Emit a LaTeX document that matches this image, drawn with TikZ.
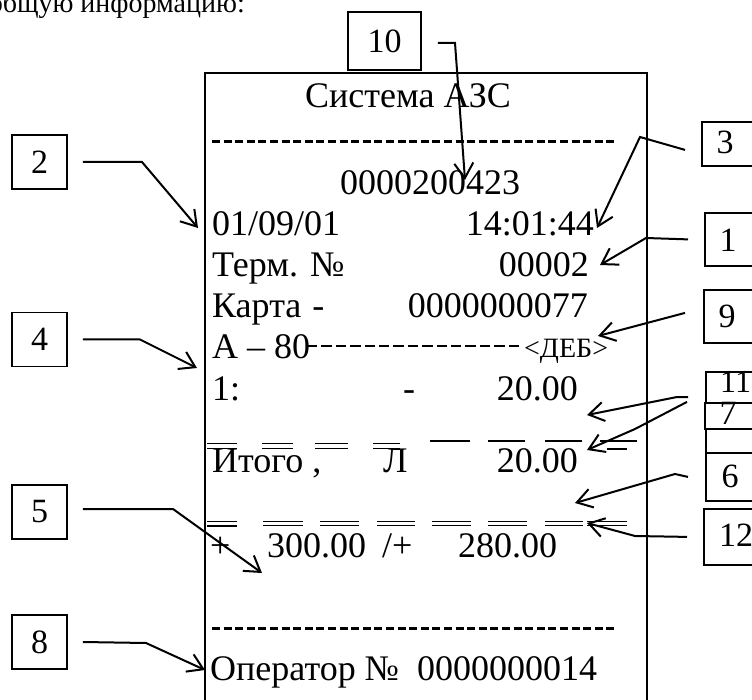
\documentclass[tikz,border=0pt]{standalone}
\usepackage{fontspec}
\setmainfont{Liberation Serif}
\usetikzlibrary{arrows.meta}
\begin{document}
\begin{tikzpicture}[x=1pt,y=-1pt,
  rtext/.style={inner sep=0pt, font=\fontsize{36}{36}\selectfont},
  lbltext/.style={inner sep=0pt, font=\fontsize{34}{34}\selectfont},
  lbox/.style={draw, line width=1.8pt, minimum width=55pt, minimum height=54pt, inner sep=0pt, font=\fontsize{34}{34}\selectfont},
  rbox/.style={draw, line width=1.8pt, inner sep=0pt},
  conn/.style={line width=2pt, -{Straight Barb[length=15pt,width=19pt]}},
  dashrule/.style={line width=3pt, dash pattern=on 8pt off 3.6pt},
  ovl/.style={line width=1.3pt}]
\clip (0,0) rectangle (752,700);
\fill[white] (0,0) rectangle (752,700);

% heading fragment
\node[inner sep=0pt, anchor=base east, font=\fontsize{28}{28}\selectfont] (head) at (245,13) {общую информацию:};

% receipt
\draw[line width=2pt] (205,73) rectangle (647,720);
\node[rtext, anchor=base west] (sys) at (305,108) {Система АЗС};
\coordinate (d1a) at (212,142); \coordinate (d1b) at (617,142);
\draw[dashrule] (d1a) -- (d1b);
\node[rtext, anchor=base west] (num) at (340,195) {0000200423};
\node[rtext, anchor=base west] (date) at (212,236) {01/09/01};
\node[rtext, anchor=base east] (time) at (594,236) {14:01:44};
\node[rtext, anchor=base west] (term) at (212,277) {Терм. №};
\node[rtext, anchor=base east] (termn) at (589,277) {00002};
\node[rtext, anchor=base west] (card) at (212,318) {Карта\hspace{11pt}-};
\node[rtext, anchor=base east] (cardn) at (588,318) {0000000077};
\node[rtext, anchor=base west] (fuel) at (212,359) {А – 80};
\coordinate (fda) at (307,346); \coordinate (fdb) at (522,346);
\draw[line width=2.4pt, dash pattern=on 10.4pt off 4pt] (fda) -- (fdb);
\node[inner sep=0pt, anchor=base west, font=\fontsize{28}{28}\selectfont] (deb) at (524,358) {<ДЕБ>};
\node[rtext, anchor=base west] (r1a) at (212,400) {1:};
\node[rtext, anchor=base west] (r1b) at (403,400) {-};
\node[rtext, anchor=base east] (r1c) at (578,400) {20.00};
\node[rtext, anchor=base west] (tota) at (212,472) {Итого ,};
\node[rtext, anchor=base west] (totb) at (383,472) {Л};
\node[rtext, anchor=base east] (totc) at (578,472) {20.00};
\node[rtext, anchor=base west] (pa) at (210,557) {+};
\node[rtext, anchor=base west] (pb) at (267,557) {300.00};
\node[rtext, anchor=base west] (pc) at (382,557) {/+};
\node[rtext, anchor=base west] (pd) at (458,557) {280.00};
\coordinate (d2a) at (212,628); \coordinate (d2b) at (617,628);
\draw[dashrule] (d2a) -- (d2b);
\node[rtext, anchor=base west] (oper) at (210,680) {Оператор №\hspace{9pt} 0000000014};

% overline artifacts above the "Итого" row
\foreach \a/\b in {207/237,262/293,315/348,373/400}{
  \draw[ovl] (\a,443.5) -- (\b,443.5);
  \draw[ovl] (\a,448.5) -- (\b,448.5);
}
\foreach \a/\b in {430/470,488/525,545/582,600/637}{
  \draw[ovl] (\a,441) -- (\b,441);
}
\draw[ovl] (607,449) -- (627,449);
% overline artifacts above the "+" row
\draw[line width=1.8pt] (207,521.5) -- (237,521.5);
\draw[line width=1.8pt] (207,526) -- (237,526);
\foreach \a/\b in {263/303,320/359,377/415,432/471,488/527,545/583,587/627}{
  \draw[ovl] (\a,521.5) -- (\b,521.5);
  \draw[ovl] (\a,525.5) -- (\b,525.5);
}

% left label boxes
\node[lbox] (b2) at (39.5,162) {2};
\node[lbox] (b4) at (39.5,339.5) {4};
\node[lbox] (b5) at (39.5,512) {5};
\node[lbox] (b8) at (39.5,642) {8};
% top label box
\node[lbox, minimum width=73pt, minimum height=58pt] (b10) at (384.5,41) {10};

% right label boxes
\node[rbox, anchor=north west, minimum width=70pt, minimum height=44pt] (b3) at (701,121) {};
\node[rbox, anchor=north west, minimum width=70pt, minimum height=53pt] (b1) at (704,212) {};
\node[rbox, anchor=north west, minimum width=70pt, minimum height=53pt] (b9) at (703,289) {};
\node[rbox, anchor=north west, minimum width=70pt, minimum height=81pt] (b11) at (705,371) {};
\node[rbox, anchor=north west, minimum width=70pt, minimum height=48pt] (b6) at (705,452) {};
\node[rbox, anchor=north west, minimum width=70pt, minimum height=26pt, fill=white] (b7) at (704,402) {};
\node[rbox, anchor=north west, minimum width=70pt, minimum height=56pt] (b12) at (703,508) {};
\node[lbltext] (t3) at (725,142) {3};
\node[lbltext] (t1) at (728,240) {1};
\node[lbltext] (t9) at (727,316) {9};
\node[lbltext, anchor=base west, font=\fontsize{32}{32}\selectfont] (t11) at (720,392) {11};
\node[lbltext, anchor=base] (t7) at (728,424) {7};
\node[lbltext] (t6) at (730,476) {6};
\node[lbltext] (t12) at (736,535) {12};

% connectors: left
\coordinate (c2) at (142,162); \coordinate (p2) at (198,228);
\draw[conn] ([xshift=15pt]b2.east) -- (c2) -- (p2);
\coordinate (c4) at (140,339.5); \coordinate (p4) at (197,368);
\draw[conn] ([xshift=15pt]b4.east) -- (c4) -- (p4);
\coordinate (c5) at (173,509); \coordinate (p5) at (262,573);
\draw[conn] ([xshift=15pt,yshift=3pt]b5.east) -- (c5) -- (p5);
\coordinate (c8) at (146,643); \coordinate (p8) at (205,670);
\draw[conn] ([xshift=15pt]b8.east) -- (c8) -- (p8);
% connector: top
\coordinate (c10) at (455,43); \coordinate (p10) at (465,180);
\draw[conn] ([xshift=16pt,yshift=-2pt]b10.east) -- (c10) -- (p10);
% connectors: right
\coordinate (c3) at (640,137); \coordinate (p3) at (597,228);
\draw[conn] ([xshift=-16pt,yshift=-6pt]b3.west) -- (c3) -- (p3);
\coordinate (c1) at (646,238); \coordinate (p1) at (600,265);
\draw[conn] ([xshift=-16pt]b1.west) -- (c1) -- (p1);
\coordinate (p9) at (598,336);
\draw[conn] ([xshift=-18pt,yshift=3.5pt]b9.west) -- (p9);
\coordinate (s11) at (688,397); \coordinate (c11) at (677,397); \coordinate (p11) at (587,415);
\draw[conn] (s11) -- (c11) -- (p11);
\coordinate (c7) at (635,429); \coordinate (p7) at (587,450);
\draw[conn] ([xshift=-17pt,yshift=14pt]b7.west) -- (c7) -- (p7);
\coordinate (c6) at (675,474); \coordinate (p6) at (575,503);
\draw[conn] ([xshift=-17pt]b6.west) -- (c6) -- (p6);
\coordinate (c12) at (635,536); \coordinate (p12) at (587,523);
\draw[conn] ([xshift=-16pt]b12.west) -- (c12) -- (p12);
\end{tikzpicture}
\end{document}
